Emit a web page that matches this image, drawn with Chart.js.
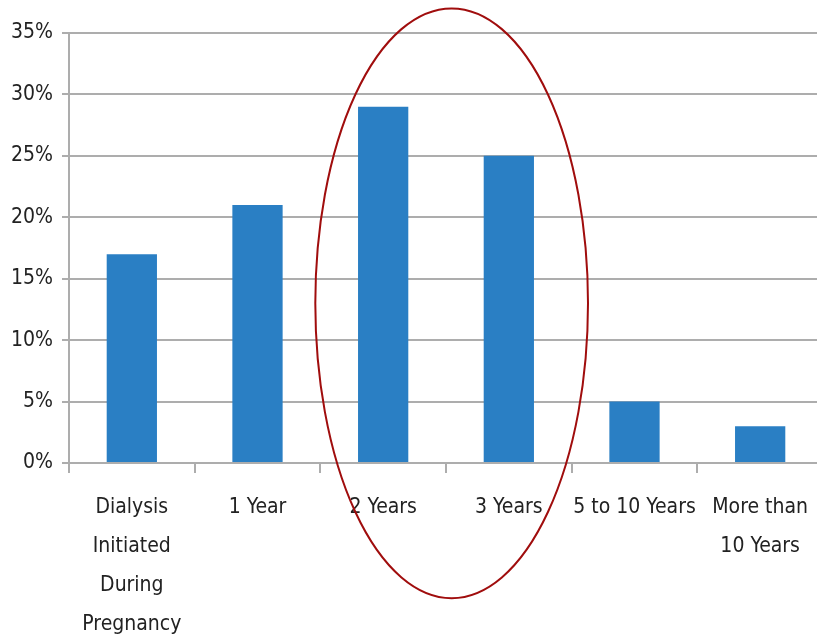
<!DOCTYPE html>
<html>
<head>
<meta charset="utf-8">
<script src="https://cdn.jsdelivr.net/npm/chart.js@4.4.1/dist/chart.umd.min.js"></script>
<style>
  html, body { margin: 0; padding: 0; background: #fff; overflow: hidden; }
  #wrap { width: 830px; height: 640px; }
</style>
</head>
<body>
<div id="wrap"><canvas id="chart" width="830" height="640" style="width:830px;height:640px"></canvas></div>
<script>
const categories = [
  ['Dialysis', 'Initiated', 'During', 'Pregnancy'],
  '1 Year',
  '2 Years',
  '3 Years',
  '5 to 10 Years',
  ['More than', '10 Years'],
];
const percentages = [17, 21, 29, 25, 5, 3];
const yTicks = [0, 5, 10, 15, 20, 25, 30, 35];

// highlight ellipse in data units (category index / percent)
const ellipseX = [1.46, 3.63];
const ellipseY = [-11, 37];

const FONT = "'Liberation Sans Narrow', 'DejaVu Sans Condensed', sans-serif";
const BLUE = '#2a7fc4';
const GRID = '#adadad';
const TEXT = '#222';

const ellipsePlugin = {
  id: 'highlight',
  afterDraw(chart) {
    const { ctx, scales: { x, y } } = chart;
    const x0 = x.getPixelForValue(ellipseX[0]), x1 = x.getPixelForValue(ellipseX[1]);
    const y0 = y.getPixelForValue(ellipseY[1]), y1 = y.getPixelForValue(ellipseY[0]);
    ctx.save();
    ctx.beginPath();
    ctx.ellipse((x0 + x1) / 2, (y0 + y1) / 2, (x1 - x0) / 2, (y1 - y0) / 2, 0, 0, Math.PI * 2);
    ctx.strokeStyle = '#a00d0d';
    ctx.lineWidth = 2;
    ctx.stroke();
    ctx.restore();
  },
};

new Chart(document.getElementById('chart'), {
  type: 'bar',
  data: {
    labels: categories,
    datasets: [{
      data: percentages,
      backgroundColor: BLUE,
      borderWidth: 0,
      categoryPercentage: 1,
      barPercentage: 0.4,
    }],
  },
  options: {
    responsive: false,
    animation: false,
    layout: { padding: { top: 33, left: 0, right: 7, bottom: 0 } },
    plugins: { legend: { display: false }, tooltip: { enabled: false } },
    scales: {
      x: {
        offset: true,
        grid: { display: true, drawOnChartArea: false, drawTicks: true, tickLength: 10, color: GRID, lineWidth: 2 },
        border: { color: GRID, width: 2 },
        ticks: { color: TEXT, padding: 15, maxRotation: 0, autoSkip: false, font: { family: FONT, size: 21, lineHeight: 1.86 } },
        afterFit: s => { s.height = 177; },
      },
      y: {
        min: 0, max: 35,
        afterBuildTicks: s => { s.ticks = yTicks.map(v => ({ value: v })); },
        grid: { color: GRID, lineWidth: 2, tickLength: 7 },
        border: { color: GRID, width: 2 },
        ticks: { color: TEXT, padding: 9, callback: v => v + '%', font: { family: FONT, size: 21 } },
        afterFit: s => { s.width = 69; },
      },
    },
  },
  plugins: [ellipsePlugin],
});
</script>
</body>
</html>
